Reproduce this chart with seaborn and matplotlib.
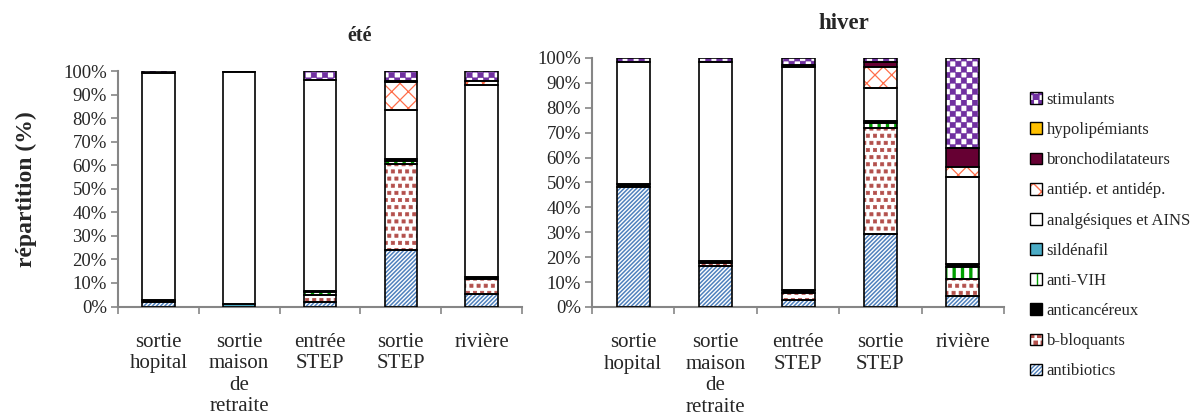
import numpy as np
import matplotlib
matplotlib.use("Agg")
import matplotlib.pyplot as plt
import matplotlib.hatch as mhatch
from matplotlib.path import Path
from matplotlib.patches import Patch, Rectangle
from matplotlib.legend_handler import HandlerTuple
from matplotlib.ticker import PercentFormatter, MultipleLocator, FixedLocator
import seaborn as sns

# ---------------------------------------------------------------- data (%)
sites = ["sortie\nhopital", "sortie\nmaison\nde\nretraite", "entrée\nSTEP",
         "sortie\nSTEP", "rivière"]

# été
ete_antibiotics = [1.8, 0.0, 1.8, 23.8, 5.4]
ete_bbloquants = [0.0, 0.0, 3.2, 36.9, 6.4]
ete_antivih = [0.0, 0.0, 1.0, 1.2, 0.0]
ete_anticancereux = [0.9, 0.0, 0.8, 0.6, 0.9]
ete_sildenafil = [0.0, 1.0, 0.0, 0.0, 0.0]
ete_analgesiques = [96.5, 98.6, 89.2, 20.9, 81.3]
ete_antiep = [0.0, 0.0, 0.0, 11.8, 1.9]
ete_broncho = [0.0, 0.0, 0.0, 0.4, 0.0]
ete_hypolip = [0.0, 0.0, 0.0, 0.0, 0.0]
ete_stimulants = [0.8, 0.4, 4.0, 4.4, 4.1]

# hiver
hiv_antibiotics = [48.3, 16.5, 2.8, 29.2, 4.4]
hiv_bbloquants = [0.0, 1.0, 3.0, 42.8, 6.7]
hiv_antivih = [0.0, 0.0, 0.0, 1.8, 5.1]
hiv_anticancereux = [1.0, 0.8, 1.0, 0.9, 0.9]
hiv_sildenafil = [0.0, 0.0, 0.0, 0.0, 0.0]
hiv_analgesiques = [49.0, 80.0, 89.5, 13.1, 35.2]
hiv_antiep = [0.0, 0.0, 0.0, 8.4, 4.1]
hiv_broncho = [0.0, 0.0, 0.7, 2.1, 7.6]
hiv_hypolip = [0.0, 0.0, 0.0, 0.0, 0.0]
hiv_stimulants = [1.7, 1.7, 3.0, 1.7, 36.0]

classes = ["antibiotics", "b-bloquants", "anti-VIH", "anticancéreux", "sildénafil",
           "analgésiques et AINS", "antiép. et antidép.", "bronchodilatateurs",
           "hypolipémiants", "stimulants"]
ete = dict(zip(classes, [ete_antibiotics, ete_bbloquants, ete_antivih, ete_anticancereux,
                         ete_sildenafil, ete_analgesiques, ete_antiep, ete_broncho,
                         ete_hypolip, ete_stimulants]))
hiver = dict(zip(classes, [hiv_antibiotics, hiv_bbloquants, hiv_antivih, hiv_anticancereux,
                           hiv_sildenafil, hiv_analgesiques, hiv_antiep, hiv_broncho,
                           hiv_hypolip, hiv_stimulants]))

legend_order = ["stimulants", "hypolipémiants", "bronchodilatateurs", "antiép. et antidép.",
                "analgésiques et AINS", "sildénafil", "anti-VIH", "anticancéreux",
                "b-bloquants", "antibiotics"]

# face colour, hatch, hatch colour, hatch line width
styles = {
    "antibiotics": ("white", "////////", "#4f81bd", 1.1),
    "b-bloquants": ("white", "O", "#b3504c", 0.5),
    "anti-VIH": ("white", "||", "#00a000", 2.4),
    "anticancéreux": ("black", None, "black", 1.0),
    "sildénafil": ("#4bacc6", None, "#4bacc6", 1.0),
    "analgésiques et AINS": ("white", None, "white", 1.0),
    "antiép. et antidép.": ("white", "xx", "#ff6e4a", 0.9),
    "bronchodilatateurs": ("#660033", None, "#660033", 1.0),
    "hypolipémiants": ("#ffc000", None, "#ffc000", 1.0),
    "stimulants": ("white", "*", "#7030a0", 0.3),
}


# ------------------------------------------------------ extra hatch patterns
class CheckerHatch(mhatch.HatchPatternBase):
    """'*' draws a checkerboard of filled squares."""

    def __init__(self, hatch, density):
        self.n = hatch.count('*') * 18
        self.num_vertices = (self.n * self.n // 2) * 5

    def set_vertices_and_codes(self, vertices, codes):
        s = 1.0 / self.n
        unit = np.array([[0, 0], [1, 0], [1, 1], [0, 1], [0, 0]], float) * s
        cells = [(i, j) for i in range(self.n) for j in range(self.n) if (i + j) % 2 == 0]
        vertices[:] = np.concatenate([unit + [i * s, j * s] for i, j in cells])
        codes[:] = np.tile([Path.MOVETO, Path.LINETO, Path.LINETO, Path.LINETO,
                            Path.CLOSEPOLY], len(cells))


class SquareDots(mhatch.Shapes):
    """'O' draws a staggered grid of small filled squares."""
    filled = True
    size = 0.45
    shape_vertices = np.array([[-.5, -.5], [.5, -.5], [.5, .5], [-.5, .5], [-.5, -.5]])
    shape_codes = np.array([Path.MOVETO, Path.LINETO, Path.LINETO, Path.LINETO,
                            Path.CLOSEPOLY], dtype=Path.code_type)

    def __init__(self, hatch, density):
        self.num_rows = hatch.count('O') * 14
        super().__init__(hatch, density)


mhatch._hatch_types = [CheckerHatch if t is mhatch.Stars else
                       SquareDots if t is mhatch.LargeCircles else t
                       for t in mhatch._hatch_types]

# ------------------------------------------------------------------ styling
sns.set_theme(style="white")
plt.rcParams["font.family"] = ["Liberation Serif", "DejaVu Serif"]
plt.rcParams["hatch.linewidth"] = 1.0
AXIS_GREY = "#868686"

fig = plt.figure(figsize=(11.95, 4.18), dpi=100)
ax_ete = fig.add_axes([0.0987, 0.2667, 0.3381, 0.5634])
ax_hiv = fig.add_axes([0.4954, 0.2656, 0.3448, 0.5957])


def draw_season(ax, table):
    bottom = np.zeros(len(sites))
    for name in classes:
        vals = np.asarray(table[name], float)
        face, hatch, hcol, hlw = styles[name]
        n0 = len(ax.patches)
        with plt.rc_context({"hatch.linewidth": hlw}):
            sns.barplot(x=sites, y=vals, order=sites, bottom=bottom, color=face,
                        saturation=1, width=0.4, hatch=hatch, edgecolor=hcol,
                        linewidth=0, errorbar=None, ax=ax)
        for p in ax.patches[n0:]:
            if hasattr(p, "set_hatch_linewidth"):
                p.set_hatch_linewidth(hlw)
        bottom += vals
    # black outline around every segment
    for p in list(ax.patches):
        if p.get_height() > 0:
            ax.add_patch(Rectangle(p.get_xy(), p.get_width(), p.get_height(),
                                   fill=False, edgecolor="black", linewidth=1.2,
                                   zorder=3))
    ax.set_xlim(-0.5, len(sites) - 0.5)
    ax.set_ylim(0, 100)
    ax.yaxis.set_major_locator(MultipleLocator(10))
    ax.yaxis.set_major_formatter(PercentFormatter(100, decimals=0))
    ax.xaxis.set_minor_locator(FixedLocator(np.arange(-0.5, len(sites), 1.0)))
    ax.tick_params(axis="x", which="major", length=0, pad=19, labelsize=15)
    ax.tick_params(axis="x", which="minor", length=5, width=1.2, color=AXIS_GREY,
                   direction="out", bottom=True)
    ax.tick_params(axis="y", which="major", length=5, width=1.2, color=AXIS_GREY,
                   direction="out", left=True, labelsize=13.5, pad=3)
    for lab in ax.get_xticklabels():
        lab.set_linespacing(1.17)
        lab.set_verticalalignment("top")
    for side in ("top", "right"):
        ax.spines[side].set_visible(False)
    for side in ("left", "bottom"):
        ax.spines[side].set_color(AXIS_GREY)
        ax.spines[side].set_linewidth(1.5)
    ax.set_xlabel("")
    ax.set_ylabel("")


draw_season(ax_ete, ete)
draw_season(ax_hiv, hiver)

ax_ete.set_ylabel("répartition (%)", fontsize=17, fontweight="bold")
ax_ete.yaxis.set_label_coords(-0.2, 0.5)

fig.text(360 / 1195, 1 - 41 / 418, "été", ha="center", va="baseline",
         fontsize=14.5, fontweight="bold")
fig.text(844 / 1195, 1 - 29 / 418, "hiver", ha="center", va="baseline",
         fontsize=16.5, fontweight="bold")

# legend: hatched swatch with a black outline on top
handles = []
for name in legend_order:
    face, hatch, hcol, hlw = styles[name]
    with plt.rc_context({"hatch.linewidth": min(hlw, 1.0)}):
        swatch = Patch(facecolor=face, hatch=hatch, edgecolor=hcol, linewidth=0)
    outline = Patch(fill=False, edgecolor="black", linewidth=1.0)
    handles.append((swatch, outline))

fig.legend(handles, legend_order, loc="upper left",
           bbox_to_anchor=(1030 / 1195, 1 - 92 / 418), frameon=False,
           fontsize=12, handlelength=0.7, handleheight=0.7, handletextpad=0.3,
           labelspacing=0.85, borderpad=0, borderaxespad=0,
           handler_map={tuple: HandlerTuple(ndivide=1, pad=0)})

fig.savefig("out.png", dpi=100)
